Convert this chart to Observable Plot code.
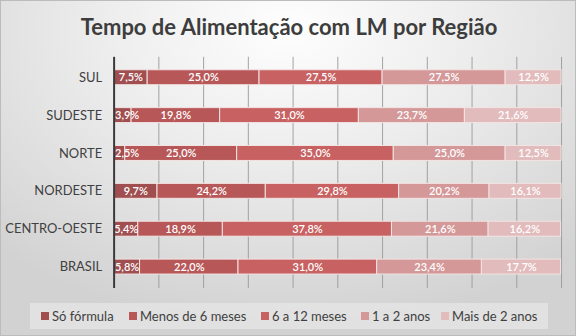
<!DOCTYPE html>
<html>
<head>
<meta charset="utf-8">
<script src="https://cdn.jsdelivr.net/npm/d3@7"></script>
<script src="https://cdn.jsdelivr.net/npm/@observablehq/plot@0.6"></script>
<style>
  html, body { margin: 0; padding: 0; }
  #chart {
    position: relative; width: 576px; height: 336px; box-sizing: border-box;
    border: 1px solid #bcbcbc;
    background: radial-gradient(ellipse 75% 90% at 50% 8%, #fefefe 0%, #ececec 45%, #d2d2d2 100%);
    font-family: Lato, "Open Sans", sans-serif; color: #404040; overflow: hidden;
  }
  #title { position: absolute; left: 0; top: 0; width: 576px; text-align: center;
    font-size: 22px; font-weight: 700; line-height: 1; padding-top: 15px; color: #3d3d3d; }
  #plot { position: absolute; left: 0; top: 0; }
  #legend { position: absolute; left: 29px; top: 302px; width: 518px; height: 26px;
    background: rgba(235,235,235,0.6); display: flex; align-items: center; font-size: 13px; }
  .item { position: absolute; display: flex; align-items: center; white-space: nowrap; }
  .sw { width: 8px; height: 8px; margin-right: 3px; display: inline-block; }
</style>
</head>
<body>
<div id="chart">
  <div id="plot"></div>
  <div id="title">Tempo de Alimentação com LM por Região</div>
  <div id="legend"></div>
</div>
<script>
const regions = ["SUL", "SUDESTE", "NORTE", "NORDESTE", "CENTRO-OESTE", "BRASIL"];
const categories = ["Só fórmula", "Menos de 6 meses", "6 a 12 meses", "1 a 2 anos", "Mais de 2 anos"];
const colors = ["#a04e4f", "#b75758", "#c86161", "#d49899", "#e2bbbc"];
const soFormula     = [7.5, 3.9, 2.5, 9.7, 5.4, 5.8];
const menos6meses   = [25.0, 19.8, 25.0, 24.2, 18.9, 22.0];
const de6a12meses   = [27.5, 31.0, 35.0, 29.8, 37.8, 31.0];
const de1a2anos     = [27.5, 23.7, 25.0, 20.2, 21.6, 23.4];
const mais2anos     = [12.5, 21.6, 12.5, 16.1, 16.2, 17.7];
const xTicks = [0, 10, 20, 30, 40, 50, 60, 70, 80, 90, 100];

const series = [soFormula, menos6meses, de6a12meses, de1a2anos, mais2anos];
const data = [];
regions.forEach((r, i) => {
  categories.forEach((c, j) => data.push({region: r, cat: c, value: series[j][i]}));
});
const fmt = v => v.toFixed(1).replace(".", ",") + "%";
const isSmallFirst = d => d.cat === categories[0] && d.value < 5;

const plot = Plot.plot({
  width: 576, height: 336,
  marginTop: 56, marginBottom: 48, marginLeft: 113, marginRight: 14,
  style: {background: "transparent", fontFamily: "Lato, 'Open Sans', sans-serif"},
  x: {domain: [0, 100], axis: null},
  y: {domain: regions, paddingInner: 0.6, paddingOuter: 0.3, axis: null, label: null},
  color: {domain: categories, range: colors},
  marks: [
    Plot.ruleX(xTicks.slice(1), {stroke: "#9a9a9a", strokeWidth: 1, strokeOpacity: 0.9}),
    Plot.barX(data, Plot.stackX({x: "value", y: "region", fill: "cat", z: "cat", order: categories,
      stroke: "#f3e4e4", strokeWidth: 1})),
    Plot.text(data, Plot.stackX({x: "value", y: "region", z: "cat", order: categories,
      text: d => isSmallFirst(d) ? "" : fmt(d.value), fill: "white", fontSize: 11, fontWeight: 600})),
    Plot.text(data.filter(isSmallFirst), {x: xTicks[0], y: "region", textAnchor: "start", dx: 1,
      text: d => fmt(d.value), fill: "white", fontSize: 11, fontWeight: 600}),
    Plot.ruleX([xTicks[0]], {stroke: "#3a3a3a", strokeWidth: 2}),
    Plot.axisY({tickSize: 0, tickPadding: 12, fontSize: 13, color: "#404040", label: null})
  ]
});
document.getElementById("plot").appendChild(plot);

const legend = document.getElementById("legend");
const lx = [11, 99, 231, 331, 411];
categories.forEach((c, i) => {
  const it = document.createElement("div");
  it.className = "item";
  it.style.left = lx[i] + "px";
  it.innerHTML = `<span class="sw" style="background:${colors[i]}"></span><span>${c}</span>`;
  legend.appendChild(it);
});
</script>
</body>
</html>
